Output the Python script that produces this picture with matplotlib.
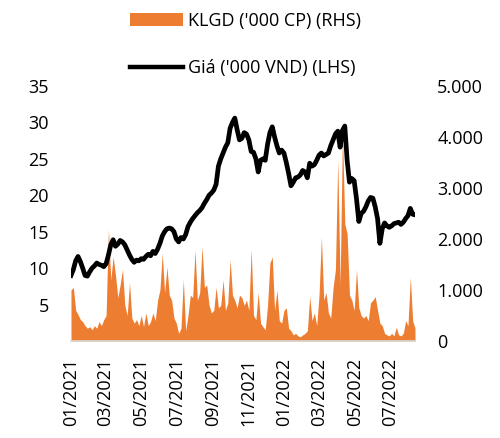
import matplotlib
matplotlib.use("Agg")
import matplotlib.pyplot as plt
import matplotlib.dates as mdates
from matplotlib.patches import Patch
from matplotlib.lines import Line2D
from matplotlib.ticker import FuncFormatter, FixedLocator
import pandas as pd

plt.rcParams['font.family'] = ['Open Sans', 'DejaVu Sans']

# ---- data (one value every 4 days) ----
start_date = "2021-01-01"
step = "4D"

price = [9.0, 9.8, 11.0, 11.6, 10.9, 10.0, 9.0, 8.9, 9.5, 10.0,
         10.3, 10.7, 10.5, 10.4, 10.2, 10.6, 11.8, 13.2, 13.9, 13.0,
         13.3, 13.8, 13.6, 13.2, 12.5, 11.8, 11.2, 10.8, 11.1, 11.0,
         11.3, 11.2, 11.6, 11.9, 11.7, 12.3, 12.0, 12.6, 13.4, 14.4,
         15.0, 15.4, 15.5, 15.4, 15.0, 14.0, 13.6, 14.2, 14.0, 14.6,
         15.7, 16.3, 16.8, 17.2, 17.6, 17.9, 18.3, 18.9, 19.4, 20.0,
         20.3, 20.7, 21.5, 24.0, 25.0, 25.8, 26.6, 27.2, 29.2, 30.0,
         30.6, 29.0, 27.6, 27.8, 28.6, 28.4, 27.6, 26.0, 25.9, 25.0,
         23.2, 24.8, 25.0, 24.8, 27.0, 28.6, 29.4, 28.0, 26.8, 25.8,
         26.2, 25.8, 24.5, 23.0, 21.3, 21.8, 22.4, 22.5, 22.8, 23.4,
         23.2, 22.4, 24.4, 24.0, 24.2, 24.8, 25.5, 25.8, 25.4, 25.6,
         25.8, 26.8, 27.6, 28.4, 28.8, 26.6, 28.9, 29.5, 24.8, 21.8,
         22.3, 22.0, 19.5, 16.4, 17.5, 17.8, 18.4, 19.2, 19.7, 19.6,
         18.4, 16.8, 13.4, 15.4, 16.2, 15.8, 15.6, 15.8, 16.1, 16.2,
         16.3, 16.0, 16.3, 16.8, 17.2, 18.2, 17.4, 17.3]

volume = [1000, 1050, 600, 520, 420, 380, 300, 250, 280, 220,
          300, 250, 380, 300, 420, 500, 2200, 1200, 1650, 1300,
          850, 1100, 1400, 700, 500, 1140, 450, 350, 420, 300,
          500, 280, 550, 300, 380, 550, 400, 800, 1000, 1720,
          950, 1450, 900, 800, 450, 350, 150, 250, 1200, 200,
          500, 900, 850, 1780, 800, 950, 1850, 1050, 1100, 700,
          550, 600, 1050, 650, 700, 1200, 600, 750, 1590, 900,
          800, 650, 900, 850, 700, 800, 600, 1800, 500, 420,
          950, 350, 280, 220, 700, 1530, 1650, 600, 1000, 400,
          350, 600, 650, 250, 200, 120, 150, 100, 80, 120,
          150, 200, 870, 400, 550, 300, 900, 2040, 800, 950,
          550, 450, 1050, 1400, 3550, 1100, 4100, 2300, 2100, 900,
          800, 600, 1400, 650, 500, 450, 500, 400, 750, 800,
          870, 600, 350, 300, 150, 120, 100, 150, 100, 270,
          120, 100, 150, 400, 300, 1250, 400, 250]

price_ticks = [5, 10, 15, 20, 25, 30, 35]
volume_ticks = [0, 1000, 2000, 3000, 4000, 5000]
labels = ["KLGD ('000 CP) (RHS)", "Giá ('000 VND) (LHS)"]

dates = pd.date_range(start_date, periods=len(price), freq=step)

orange = "#ED7D31"
fs = 13

fig = plt.figure(figsize=(5, 4.38), dpi=100)
ax = fig.add_axes([0.142, 0.2215, 0.688, 0.5822])
ax.fill_between(dates, 0, volume, color=orange, linewidth=0)
ax.set_ylim(0, 5000)
ax.set_xlim(dates[0], dates[-1])
ax.xaxis.set_major_locator(mdates.MonthLocator(bymonth=[1, 3, 5, 7, 9, 11]))
ax.xaxis.set_major_formatter(mdates.DateFormatter("%m/%Y"))
ax.tick_params(axis='x', length=0, pad=12, labelsize=fs, labelrotation=90)
for s in ['top', 'left', 'right']:
    ax.spines[s].set_visible(False)
ax.spines['bottom'].set_color('#D9D9D9')
ax.spines['bottom'].set_linewidth(1.2)

ax2 = ax.twinx()
ax2.plot(dates, price, color='black', linewidth=3.4, solid_joinstyle='round')
ax2.set_ylim(0, 35)
ax2.yaxis.tick_left()
ax2.yaxis.set_major_locator(FixedLocator(price_ticks))
ax2.tick_params(axis='y', length=0, pad=16, labelsize=fs)
for s in ax2.spines.values():
    s.set_visible(False)

# volume axis on the right (set after twinx, which resets it)
ax.yaxis.tick_right()
ax.yaxis.set_major_locator(FixedLocator(volume_ticks))
ax.yaxis.set_major_formatter(FuncFormatter(lambda v, p: f"{int(v):,}".replace(",", ".")))
ax.tick_params(axis='y', length=0, pad=16, labelsize=fs, left=False, labelleft=False,
               right=True, labelright=True)

handles = [Patch(facecolor=orange, edgecolor='none'),
           Line2D([], [], color='black', linewidth=3.2)]
fig.legend(handles, labels, loc='upper left', bbox_to_anchor=(130 / 500, 1 - 12 / 438),
           frameon=False, fontsize=fs, handlelength=2.94, handletextpad=0.3,
           labelspacing=1.62, borderpad=0, borderaxespad=0)

fig.savefig("out.png", dpi=100)
